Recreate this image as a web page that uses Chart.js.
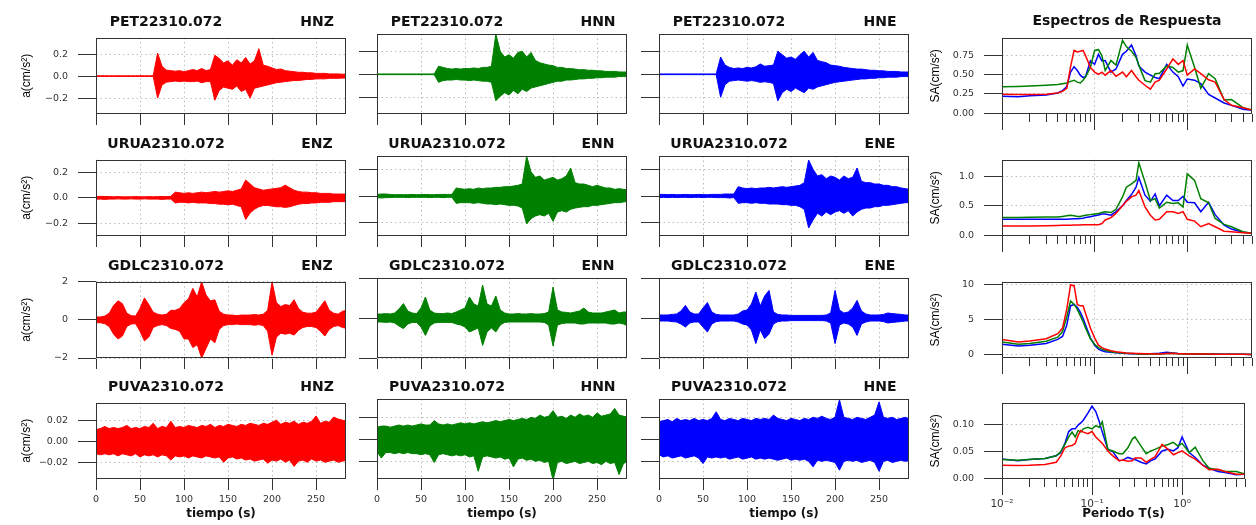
<!DOCTYPE html>
<html lang="es">
<head>
<meta charset="utf-8">
<title>Acelerogramas y espectros de respuesta</title>
<script src="https://cdn.jsdelivr.net/npm/chart.js@4.4.1/dist/chart.umd.min.js"></script>
<style>
  html, body { margin: 0; padding: 0; background: #fff; }
  #lienzo { position: relative; width: 1256px; height: 525px; overflow: hidden; background: #fff; }
  #lienzo canvas { position: absolute; }
  .tit { position: absolute; width: 200px; text-align: center; white-space: nowrap;
         font: bold 14px "DejaVu Sans", sans-serif; line-height: 14px; color: #111; }
</style>
</head>
<body>
<div id="lienzo"></div>
<script>
// ---- datos ----
const tiempo = [0,5,10,15,20,25,30,35,40,45,50,55,60,65,70,75,80,85,90,95,100,105,110,115,120,125,130,135,140,145,
  150,155,160,165,170,175,180,185,190,195,200,205,210,215,220,225,230,235,240,245,250,255,260,265,270,275,280,285];

const estaciones = ['PET22310.072', 'URUA2310.072', 'GDLC2310.072', 'PUVA2310.072'];
const componentes = [['HNZ','HNN','HNE'], ['ENZ','ENN','ENE'], ['ENZ','ENN','ENE'], ['HNZ','HNN','HNE']];

// envolventes (maximo / minimo) de cada acelerograma, cm/s2, cada 5 s
const petHNZmax = [0.003,0.003,0.003,0.003,0.003,0.003,0.003,0.003,0.003,0.003,0.003,0.003,0.003,0.003,
  0.21,0.09,0.055,0.05,0.045,0.05,0.04,0.05,0.06,0.05,0.07,0.05,0.06,
  0.19,0.16,0.12,0.14,0.10,0.15,0.12,0.17,0.11,0.14,0.25,0.10,0.09,
  0.075,0.06,0.065,0.05,0.045,0.04,0.035,0.035,0.03,0.03,0.025,0.025,0.025,0.02,0.02,0.02,0.018,0.018];
const petHNZmin = [-0.003,-0.003,-0.003,-0.003,-0.003,-0.003,-0.003,-0.003,-0.003,-0.003,-0.003,-0.003,-0.003,-0.003,
  -0.20,-0.08,-0.055,-0.05,-0.045,-0.05,-0.045,-0.05,-0.05,-0.045,-0.06,-0.05,-0.05,
  -0.22,-0.13,-0.10,-0.11,-0.12,-0.09,-0.14,-0.12,-0.20,-0.11,-0.10,-0.09,-0.08,
  -0.07,-0.06,-0.055,-0.05,-0.045,-0.04,-0.04,-0.035,-0.03,-0.03,-0.025,-0.025,-0.025,-0.02,-0.02,-0.02,-0.018,-0.018];
const petHNNmax = [0.003,0.003,0.003,0.003,0.003,0.003,0.003,0.003,0.003,0.003,0.003,0.003,0.003,0.003,
  0.07,0.06,0.05,0.045,0.05,0.045,0.05,0.05,0.055,0.05,0.06,0.06,0.07,
  0.35,0.20,0.15,0.17,0.14,0.19,0.20,0.15,0.19,0.12,0.10,0.09,0.08,
  0.075,0.06,0.06,0.05,0.05,0.045,0.04,0.04,0.035,0.035,0.03,0.03,0.025,0.025,0.025,0.02,0.02,0.02];
const petHNNmin = [-0.003,-0.003,-0.003,-0.003,-0.003,-0.003,-0.003,-0.003,-0.003,-0.003,-0.003,-0.003,-0.003,-0.003,
  -0.07,-0.055,-0.05,-0.05,-0.045,-0.05,-0.05,-0.055,-0.05,-0.055,-0.06,-0.06,-0.07,
  -0.23,-0.19,-0.16,-0.18,-0.14,-0.17,-0.13,-0.15,-0.12,-0.11,-0.10,-0.09,-0.08,
  -0.07,-0.06,-0.06,-0.05,-0.05,-0.045,-0.04,-0.04,-0.035,-0.035,-0.03,-0.03,-0.025,-0.025,-0.025,-0.02,-0.02,-0.02];
const petHNEmax = [0.003,0.003,0.003,0.003,0.003,0.003,0.003,0.003,0.003,0.003,0.003,0.003,0.003,0.003,
  0.15,0.08,0.06,0.05,0.055,0.05,0.06,0.055,0.065,0.09,0.07,0.075,0.08,
  0.20,0.17,0.14,0.15,0.13,0.17,0.20,0.15,0.19,0.12,0.11,0.10,0.08,
  0.075,0.07,0.06,0.055,0.05,0.045,0.045,0.04,0.035,0.035,0.03,0.03,0.025,0.025,0.025,0.02,0.02,0.02];
const petHNEmin = [-0.003,-0.003,-0.003,-0.003,-0.003,-0.003,-0.003,-0.003,-0.003,-0.003,-0.003,-0.003,-0.003,-0.003,
  -0.20,-0.09,-0.06,-0.055,-0.05,-0.055,-0.06,-0.055,-0.06,-0.07,-0.065,-0.07,-0.08,
  -0.23,-0.16,-0.13,-0.15,-0.12,-0.14,-0.16,-0.12,-0.13,-0.11,-0.10,-0.09,-0.08,
  -0.07,-0.065,-0.06,-0.055,-0.05,-0.045,-0.04,-0.04,-0.035,-0.035,-0.03,-0.03,-0.025,-0.025,-0.025,-0.02,-0.02,-0.02];

const uruENZmax = [0.01,0.012,0.01,0.01,0.008,0.01,0.008,0.008,0.008,0.01,0.008,0.008,0.01,0.008,0.01,0.01,0.01,0.012,
  0.045,0.04,0.035,0.04,0.035,0.04,0.045,0.04,0.045,0.05,0.045,0.05,0.055,0.05,0.06,0.07,
  0.14,0.11,0.08,0.07,0.06,0.065,0.07,0.075,0.08,0.10,0.08,0.06,0.05,0.045,0.045,0.04,0.04,0.035,0.035,0.035,0.03,0.03,0.03,0.03];
const uruENZmin = [-0.01,-0.01,-0.012,-0.01,-0.01,-0.008,-0.01,-0.01,-0.008,-0.01,-0.01,-0.008,-0.01,-0.01,-0.01,-0.012,-0.01,-0.01,
  -0.04,-0.035,-0.035,-0.04,-0.035,-0.04,-0.04,-0.04,-0.045,-0.045,-0.05,-0.05,-0.055,-0.05,-0.06,-0.07,
  -0.17,-0.12,-0.09,-0.07,-0.06,-0.06,-0.065,-0.07,-0.07,-0.075,-0.07,-0.06,-0.05,-0.045,-0.045,-0.04,-0.04,-0.035,-0.035,-0.035,-0.03,-0.03,-0.03,-0.03];
const uruENNmax = [0.012,0.015,0.015,0.012,0.01,0.01,0.01,0.01,0.012,0.01,0.01,0.012,0.01,0.01,0.012,0.012,0.012,0.012,
  0.06,0.055,0.05,0.055,0.05,0.06,0.055,0.06,0.06,0.065,0.065,0.07,0.07,0.075,0.08,0.09,
  0.30,0.18,0.14,0.15,0.12,0.13,0.14,0.12,0.13,0.15,0.21,0.10,0.09,0.09,0.08,0.07,0.08,0.07,0.06,0.06,0.05,0.055,0.05,0.045];
const uruENNmin = [-0.012,-0.015,-0.012,-0.012,-0.01,-0.01,-0.01,-0.012,-0.01,-0.01,-0.01,-0.01,-0.012,-0.01,-0.01,-0.012,-0.01,-0.01,
  -0.055,-0.05,-0.05,-0.05,-0.055,-0.05,-0.055,-0.06,-0.06,-0.065,-0.06,-0.065,-0.07,-0.07,-0.075,-0.09,
  -0.21,-0.17,-0.15,-0.14,-0.15,-0.13,-0.19,-0.12,-0.11,-0.12,-0.10,-0.09,-0.085,-0.08,-0.08,-0.07,-0.07,-0.065,-0.06,-0.055,-0.05,-0.05,-0.045,-0.04];
const uruENEmax = [0.012,0.012,0.01,0.012,0.01,0.01,0.012,0.01,0.01,0.012,0.01,0.01,0.012,0.012,0.012,0.015,0.015,0.015,
  0.07,0.06,0.055,0.06,0.055,0.06,0.06,0.065,0.06,0.065,0.07,0.065,0.07,0.075,0.08,0.10,
  0.27,0.20,0.15,0.16,0.13,0.15,0.14,0.12,0.15,0.13,0.14,0.21,0.11,0.10,0.10,0.09,0.09,0.08,0.08,0.07,0.07,0.06,0.055,0.05];
const uruENEmin = [-0.012,-0.01,-0.012,-0.01,-0.012,-0.01,-0.01,-0.012,-0.01,-0.01,-0.012,-0.01,-0.01,-0.012,-0.012,-0.012,-0.015,-0.012,
  -0.055,-0.05,-0.05,-0.055,-0.05,-0.055,-0.055,-0.06,-0.06,-0.06,-0.065,-0.065,-0.07,-0.07,-0.08,-0.10,
  -0.24,-0.18,-0.13,-0.15,-0.12,-0.14,-0.12,-0.11,-0.13,-0.11,-0.15,-0.12,-0.10,-0.09,-0.09,-0.08,-0.08,-0.07,-0.07,-0.065,-0.06,-0.055,-0.05,-0.05];

const gdlENZmax = [0.15,0.15,0.2,0.35,0.75,1.0,0.85,0.35,0.22,0.2,
  0.6,1.15,0.8,0.4,0.3,0.25,0.3,0.5,
  0.5,0.6,0.9,1.1,1.65,1.2,2.0,1.3,1.0,1.05,0.45,
  0.3,0.25,0.25,0.22,0.25,0.25,0.25,0.28,0.25,0.3,0.5,
  2.0,0.9,0.7,0.8,0.75,1.05,0.6,0.4,0.35,0.35,0.4,0.7,1.0,0.5,0.35,0.3,0.45,0.5];
const gdlENZmin = [-0.15,-0.15,-0.2,-0.35,-0.75,-1.0,-0.85,-0.35,-0.22,-0.2,
  -0.6,-1.1,-0.9,-0.4,-0.3,-0.25,-0.3,-0.45,
  -0.5,-0.6,-1.0,-1.0,-1.45,-1.3,-2.0,-1.5,-1.0,-1.2,-0.5,
  -0.3,-0.25,-0.25,-0.22,-0.25,-0.25,-0.25,-0.28,-0.25,-0.3,-0.6,
  -1.85,-0.9,-0.7,-0.75,-0.7,-0.8,-0.55,-0.4,-0.35,-0.35,-0.4,-0.6,-0.85,-0.5,-0.35,-0.3,-0.4,-0.45];
const gdlENNmax = [0.2,0.2,0.22,0.2,0.25,0.45,0.72,0.35,0.25,0.22,
  0.5,1.05,0.4,0.25,0.22,0.22,0.25,0.22,
  0.3,0.4,0.5,1.05,0.7,0.6,1.65,0.7,0.6,1.1,0.4,
  0.25,0.2,0.2,0.22,0.2,0.2,0.22,0.2,0.2,0.22,0.3,
  1.55,0.4,0.3,0.28,0.25,0.3,0.35,0.5,0.3,0.25,0.25,0.25,0.3,0.35,0.4,0.25,0.3,0.3];
const gdlENNmin = [-0.2,-0.2,-0.22,-0.2,-0.25,-0.4,-0.53,-0.3,-0.22,-0.22,
  -0.45,-0.87,-0.4,-0.25,-0.22,-0.22,-0.22,-0.22,
  -0.3,-0.35,-0.45,-0.7,-0.6,-0.5,-1.37,-0.7,-0.5,-0.7,-0.35,
  -0.22,-0.2,-0.2,-0.2,-0.2,-0.2,-0.2,-0.2,-0.2,-0.22,-0.35,
  -1.4,-0.35,-0.28,-0.25,-0.25,-0.25,-0.3,-0.3,-0.25,-0.25,-0.25,-0.25,-0.25,-0.3,-0.3,-0.25,-0.3,-0.4];
const gdlENEmax = [0.15,0.15,0.15,0.18,0.2,0.35,0.63,0.3,0.2,0.2,
  0.5,0.77,0.3,0.18,0.15,0.15,0.15,0.15,
  0.2,0.35,0.4,0.7,1.3,0.6,1.1,1.38,0.3,0.18,0.15,
  0.15,0.13,0.13,0.13,0.13,0.13,0.13,0.13,0.13,0.15,0.25,
  1.38,0.4,0.25,0.3,0.5,0.88,0.35,0.2,0.15,0.15,0.15,0.18,0.25,0.22,0.2,0.18,0.15,0.15];
const gdlENEmin = [-0.15,-0.15,-0.15,-0.18,-0.2,-0.3,-0.45,-0.25,-0.2,-0.2,
  -0.45,-0.7,-0.3,-0.18,-0.15,-0.15,-0.15,-0.15,
  -0.2,-0.3,-0.35,-0.6,-1.28,-0.6,-1.03,-0.8,-0.3,-0.18,-0.15,
  -0.15,-0.13,-0.13,-0.13,-0.13,-0.13,-0.13,-0.13,-0.13,-0.15,-0.25,
  -1.28,-0.35,-0.25,-0.3,-0.45,-0.87,-0.3,-0.2,-0.15,-0.15,-0.15,-0.18,-0.25,-0.22,-0.2,-0.18,-0.15,-0.15];

const puvHNZmax = [0.011,0.012,0.014,0.012,0.013,0.012,0.013,0.015,0.012,0.013,
  0.012,0.014,0.013,0.017,0.012,0.014,0.013,0.019,0.013,0.014,
  0.013,0.015,0.014,0.013,0.015,0.014,0.016,0.013,0.015,0.014,
  0.016,0.015,0.014,0.016,0.015,0.017,0.016,0.015,0.017,0.016,
  0.018,0.02,0.016,0.018,0.017,0.019,0.016,0.018,0.017,0.019,
  0.024,0.017,0.019,0.018,0.023,0.021,0.02,0.019];
const puvHNZmin = [-0.012,-0.013,-0.012,-0.013,-0.012,-0.014,-0.012,-0.013,-0.014,-0.012,
  -0.015,-0.013,-0.014,-0.013,-0.015,-0.013,-0.014,-0.018,-0.014,-0.015,
  -0.014,-0.016,-0.014,-0.015,-0.016,-0.014,-0.015,-0.016,-0.015,-0.02,
  -0.016,-0.015,-0.017,-0.016,-0.018,-0.017,-0.019,-0.018,-0.017,-0.021,
  -0.018,-0.019,-0.017,-0.02,-0.018,-0.024,-0.019,-0.018,-0.02,-0.017,
  -0.019,-0.018,-0.02,-0.019,-0.018,-0.02,-0.019,-0.018];
const puvHNNmax = [0.011,0.012,0.012,0.011,0.012,0.013,0.012,0.013,0.012,0.013,
  0.014,0.013,0.013,0.017,0.014,0.013,0.014,0.013,0.014,0.015,
  0.014,0.015,0.014,0.015,0.016,0.015,0.016,0.017,0.016,0.017,
  0.018,0.017,0.018,0.019,0.018,0.02,0.019,0.022,0.02,0.021,
  0.026,0.02,0.021,0.019,0.022,0.02,0.023,0.021,0.022,0.02,
  0.024,0.021,0.022,0.023,0.028,0.022,0.021,0.02];
const puvHNNmin = [-0.011,-0.017,-0.012,-0.012,-0.013,-0.012,-0.013,-0.012,-0.013,-0.013,
  -0.014,-0.013,-0.014,-0.021,-0.014,-0.013,-0.014,-0.015,-0.014,-0.015,
  -0.014,-0.016,-0.015,-0.029,-0.016,-0.015,-0.016,-0.017,-0.016,-0.018,
  -0.017,-0.025,-0.018,-0.017,-0.019,-0.018,-0.02,-0.019,-0.021,-0.02,
  -0.037,-0.021,-0.02,-0.022,-0.021,-0.02,-0.022,-0.021,-0.02,-0.022,
  -0.021,-0.023,-0.02,-0.022,-0.021,-0.032,-0.022,-0.02];
const puvHNEmax = [0.016,0.017,0.018,0.016,0.019,0.017,0.018,0.017,0.019,0.017,
  0.018,0.017,0.019,0.025,0.018,0.017,0.019,0.018,0.017,0.019,
  0.018,0.017,0.019,0.018,0.019,0.018,0.022,0.019,0.018,0.017,
  0.019,0.018,0.017,0.019,0.018,0.02,0.019,0.021,0.019,0.018,
  0.02,0.036,0.02,0.019,0.018,0.02,0.019,0.018,0.02,0.022,
  0.034,0.02,0.019,0.02,0.018,0.019,0.02,0.018];
const puvHNEmin = [-0.014,-0.016,-0.015,-0.017,-0.016,-0.015,-0.017,-0.016,-0.015,-0.017,
  -0.022,-0.016,-0.017,-0.016,-0.017,-0.016,-0.018,-0.017,-0.016,-0.018,
  -0.017,-0.016,-0.018,-0.017,-0.018,-0.017,-0.018,-0.019,-0.018,-0.017,
  -0.019,-0.018,-0.019,-0.018,-0.02,-0.025,-0.019,-0.02,-0.019,-0.02,
  -0.021,-0.028,-0.02,-0.019,-0.02,-0.019,-0.021,-0.02,-0.019,-0.021,
  -0.029,-0.02,-0.019,-0.021,-0.02,-0.019,-0.02,-0.019];

// espectros de respuesta SA (cm/s2) contra periodo T (s)
const periodos = [0.01,0.015,0.02,0.03,0.04,0.045,0.05,0.055,0.06,0.065,0.07,0.075,0.08,0.09,0.1,0.11,0.12,0.13,0.15,0.17,
  0.2,0.22,0.25,0.28,0.3,0.35,0.4,0.45,0.5,0.6,0.7,0.8,0.9,1.0,1.2,1.4,1.7,2.0,2.5,3.0,4.0,5.0];

const saPET_Z = [0.245,0.24,0.24,0.245,0.26,0.28,0.32,0.6,0.81,0.79,0.8,0.81,0.74,0.59,0.53,0.5,0.53,0.49,0.55,0.475,
  0.53,0.47,0.55,0.47,0.425,0.36,0.31,0.40,0.425,0.57,0.70,0.63,0.68,0.49,0.57,0.51,0.43,0.40,0.175,0.10,0.07,0.04];
const saPET_N = [0.34,0.345,0.35,0.36,0.37,0.38,0.39,0.41,0.425,0.40,0.39,0.425,0.47,0.59,0.81,0.82,0.74,0.55,0.68,0.62,
  0.94,0.86,0.80,0.72,0.62,0.42,0.40,0.51,0.515,0.61,0.59,0.53,0.55,0.88,0.59,0.32,0.51,0.445,0.17,0.175,0.07,0.04];
const saPET_E = [0.217,0.21,0.225,0.235,0.26,0.29,0.34,0.53,0.6,0.55,0.49,0.46,0.475,0.675,0.63,0.76,0.675,0.68,0.53,0.57,
  0.76,0.80,0.88,0.74,0.61,0.53,0.49,0.46,0.445,0.63,0.53,0.47,0.35,0.44,0.425,0.38,0.24,0.195,0.13,0.10,0.05,0.037];

const saURU_Z = [0.156,0.156,0.158,0.16,0.165,0.168,0.17,0.172,0.174,0.175,0.176,0.177,0.178,0.18,0.18,0.18,0.2,0.26,0.30,0.37,
  0.5,0.575,0.65,0.68,0.76,0.48,0.34,0.26,0.27,0.40,0.40,0.37,0.40,0.27,0.24,0.145,0.20,0.145,0.07,0.06,0.045,0.035];
const saURU_N = [0.30,0.30,0.305,0.31,0.31,0.32,0.33,0.34,0.33,0.32,0.32,0.33,0.34,0.35,0.36,0.37,0.385,0.40,0.385,0.44,
  0.65,0.815,0.87,0.93,1.23,0.90,0.59,0.62,0.46,0.56,0.54,0.55,0.48,1.04,0.93,0.62,0.55,0.285,0.185,0.145,0.06,0.035];
const saURU_E = [0.27,0.27,0.27,0.27,0.27,0.27,0.27,0.275,0.278,0.28,0.285,0.29,0.30,0.315,0.33,0.345,0.36,0.36,0.34,0.40,
  0.50,0.59,0.69,0.815,0.98,0.68,0.575,0.70,0.50,0.68,0.59,0.59,0.66,0.56,0.55,0.40,0.56,0.35,0.17,0.105,0.05,0.035];

const saGDL_Z = [2.17,1.8,1.94,2.26,3.0,3.8,6.5,10.0,9.9,7.2,7.0,7.0,5.85,3.8,2.4,1.34,1.0,0.78,0.55,0.4,
  0.28,0.22,0.18,0.15,0.14,0.12,0.1,0.09,0.09,0.14,0.18,0.12,0.1,0.09,0.08,0.07,0.06,0.05,0.04,0.03,0.025,0.02];
const saGDL_N = [1.8,1.47,1.6,1.9,2.5,3.3,5.4,7.7,7.2,6.5,5.6,4.7,3.8,2.26,1.47,1.0,0.78,0.6,0.41,0.3,
  0.23,0.18,0.14,0.11,0.09,0.08,0.08,0.08,0.09,0.15,0.18,0.12,0.1,0.09,0.08,0.07,0.06,0.05,0.04,0.03,0.025,0.02];
const saGDL_E = [1.47,1.24,1.34,1.6,2.17,2.6,4.2,7.0,7.2,6.8,6.1,5.2,4.2,2.4,1.34,0.78,0.55,0.41,0.32,0.25,
  0.18,0.15,0.12,0.1,0.09,0.09,0.1,0.14,0.18,0.32,0.23,0.15,0.12,0.1,0.09,0.08,0.07,0.06,0.05,0.04,0.03,0.02];

const saPUV_Z = [0.0245,0.024,0.0245,0.026,0.03,0.042,0.057,0.06,0.061,0.065,0.08,0.089,0.086,0.083,0.087,0.077,0.071,0.065,0.051,0.042,
  0.033,0.034,0.032,0.033,0.038,0.038,0.03,0.036,0.04,0.063,0.054,0.044,0.048,0.051,0.042,0.036,0.0245,0.016,0.017,0.013,0.008,0.008];
const saPUV_N = [0.035,0.034,0.035,0.037,0.042,0.05,0.063,0.077,0.086,0.077,0.089,0.086,0.092,0.095,0.092,0.098,0.095,0.105,0.054,0.051,
  0.046,0.046,0.057,0.073,0.077,0.06,0.046,0.051,0.054,0.06,0.063,0.067,0.06,0.065,0.048,0.058,0.033,0.019,0.016,0.013,0.013,0.008];
const saPUV_E = [0.036,0.033,0.035,0.037,0.042,0.048,0.065,0.087,0.092,0.092,0.099,0.103,0.108,0.121,0.134,0.124,0.106,0.086,0.054,0.05,
  0.033,0.034,0.039,0.036,0.035,0.03,0.027,0.033,0.036,0.051,0.054,0.051,0.057,0.077,0.048,0.039,0.0245,0.019,0.013,0.011,0.007,0.008];

// marcas y etiquetas de los ejes
const ticksTiempo = [0, 50, 100, 150, 200, 250];
const ticksSenal = [[-0.2, 0, 0.2], [-0.2, 0, 0.2], [-2, 0, 2], [-0.02, 0, 0.02]];
const etiqSenal = [['\u22120.2', '0.0', '0.2'], ['\u22120.2', '0.0', '0.2'], ['\u22122', '0', '2'], ['\u22120.02', '0.00', '0.02']];
const ticksEspectro = [[0, 0.25, 0.5, 0.75], [0, 0.5, 1], [0, 5, 10], [0, 0.05, 0.1]];
const etiqEspectro = [['0.00', '0.25', '0.50', '0.75'], ['0.0', '0.5', '1.0'], ['0', '5', '10'], ['0.00', '0.05', '0.10']];
const ticksPeriodo = [0.01,0.02,0.03,0.04,0.05,0.06,0.07,0.08,0.09,0.1,0.2,0.3,0.4,0.5,0.6,0.7,0.8,0.9,1,2,3,4,5];
const etiqPeriodo = ['10\u207B\u00B2','','','','','','','','','10\u207B\u00B9','','','','','','','','','10\u2070','','','',''];

const senales = [
  [[petHNZmax, petHNZmin], [petHNNmax, petHNNmin], [petHNEmax, petHNEmin]],
  [[uruENZmax, uruENZmin], [uruENNmax, uruENNmin], [uruENEmax, uruENEmin]],
  [[gdlENZmax, gdlENZmin], [gdlENNmax, gdlENNmin], [gdlENEmax, gdlENEmin]],
  [[puvHNZmax, puvHNZmin], [puvHNNmax, puvHNNmin], [puvHNEmax, puvHNEmin]]
];
const espectros = [
  [saPET_Z, saPET_N, saPET_E],
  [saURU_Z, saURU_N, saURU_E],
  [saGDL_Z, saGDL_N, saGDL_E],
  [saPUV_Z, saPUV_N, saPUV_E]
];

// ---- estilo y posiciones ----
const colores = ['#ff0000', '#008000', '#0000ff'];
const rangoSenal = [[-0.345, 0.35], [-0.3, 0.3], [-2, 2], [-0.036, 0.0366]];
const rangoEspectro = [[-0.012, 0.975], [-0.012, 1.28], [-0.5, 10.47], [-0.001, 0.1405]];
const X_COL = [96, 377, 659];
const X_ESP = 1002;
const Y_FIL = [34, 156, 278, 399];
const ANCHO = 250, ALTO = 80;

Chart.defaults.font.family = '"DejaVu Sans", sans-serif';
Chart.defaults.color = '#333';

const GRIS = '#bdbdbd';
const fuenteTicks = { family: '"DejaVu Sans", sans-serif', size: 9.5 };
const fuenteEje = { family: '"DejaVu Sans", sans-serif', size: 12, weight: 'bold' };
const fuenteY = { family: '"Liberation Sans", Arial, sans-serif', size: 12 };

// caja alrededor del area de trazado
const marco = {
  id: 'marco',
  afterDraw(chart) {
    const { ctx, chartArea: a } = chart;
    ctx.save();
    ctx.strokeStyle = '#333';
    ctx.lineWidth = 1;
    ctx.strokeRect(Math.round(a.left) + 0.5, Math.round(a.top) + 0.5,
      Math.round(a.right - a.left) - 1, Math.round(a.bottom - a.top) - 1);
    ctx.restore();
  }
};

// las decadas llevan marcas mas largas que las intermedias
const marcasDecada = {
  id: 'marcasDecada',
  afterDraw(chart) {
    const esc = chart.scales.x;
    const ctx = chart.ctx;
    ctx.save();
    ctx.strokeStyle = '#333';
    ctx.lineWidth = 1;
    ticksPeriodo.forEach((v, i) => {
      if (!etiqPeriodo[i]) return;
      const px = Math.round(esc.getPixelForValue(v) - 0.5) + 0.5;
      ctx.beginPath();
      ctx.moveTo(px, esc.top + 8);
      ctx.lineTo(px, esc.top + 16);
      ctx.stroke();
    });
    ctx.restore();
  }
};

function nuevoLienzo(x, y, w, h) {
  const c = document.createElement('canvas');
  c.width = w; c.height = h;
  c.style.left = x + 'px'; c.style.top = y + 'px';
  c.style.width = w + 'px'; c.style.height = h + 'px';
  document.getElementById('lienzo').appendChild(c);
  return c;
}

function titulo(texto, centro, arriba) {
  const d = document.createElement('div');
  d.className = 'tit';
  d.textContent = texto;
  d.style.left = (centro - 100) + 'px';
  d.style.top = arriba + 'px';
  document.getElementById('lienzo').appendChild(d);
}

function graficaSenal(fila, col) {
  const IZQ = 96, ARR = 12, DER = 8, ABA = 46;
  const cv = nuevoLienzo(X_COL[col] - IZQ, Y_FIL[fila] - ARR, IZQ + ANCHO + DER, ARR + ALTO + ABA);
  const [maximo, minimo] = senales[fila][col];
  const color = colores[col];
  new Chart(cv, {
    type: 'line',
    data: {
      datasets: [
        { data: tiempo.map((t, i) => ({ x: t, y: maximo[i] })), borderColor: color, backgroundColor: color,
          borderWidth: 1, pointRadius: 0, tension: 0, fill: '+1' },
        { data: tiempo.map((t, i) => ({ x: t, y: minimo[i] })), borderColor: color, backgroundColor: color,
          borderWidth: 1, pointRadius: 0, tension: 0, fill: false }
      ]
    },
    options: {
      responsive: false, animation: false, devicePixelRatio: 1, events: [],
      layout: { padding: { left: 0, top: ARR, right: DER, bottom: 0 } },
      plugins: { legend: { display: false }, tooltip: { enabled: false } },
      scales: {
        x: {
          type: 'linear', min: 0, max: 284, bounds: 'data',
          afterBuildTicks: ax => { ax.ticks = ticksTiempo.map(v => ({ value: v })); },
          afterFit: ax => { ax.height = ABA; },
          grid: { color: GRIS, tickColor: '#333', tickLength: 11, lineWidth: 1 },
          border: { display: false, dash: [1.5, 3] },
          ticks: { display: fila === 3, font: fuenteTicks, color: '#333', padding: 4, maxRotation: 0, autoSkip: false },
          title: { display: fila === 3, text: 'tiempo (s)', color: '#111', font: fuenteEje, padding: { top: 0, bottom: 4 } }
        },
        y: {
          min: rangoSenal[fila][0], max: rangoSenal[fila][1], bounds: 'data',
          afterBuildTicks: ax => { ax.ticks = ticksSenal[fila].map(v => ({ value: v })); },
          afterFit: ax => { ax.width = IZQ; },
          grid: { color: GRIS, tickColor: '#333', tickLength: 18, lineWidth: 1 },
          border: { display: false, dash: [1.5, 3] },
          ticks: { display: col === 0, font: fuenteTicks, color: '#333', padding: 10,
                   callback: (v, i) => etiqSenal[fila][i] },
          title: { display: col === 0, text: 'a(cm/s\u00B2)', color: '#000', font: fuenteY, padding: { top: 19, bottom: 0 } }
        }
      }
    },
    plugins: [marco]
  });
  titulo(estaciones[fila], X_COL[col] + 70, Y_FIL[fila] - 20);
  titulo(componentes[fila][col], X_COL[col] + 221, Y_FIL[fila] - 20);
}

function graficaEspectro(fila) {
  const IZQ = 80, ARR = 12, DER = 4, ABA = 46;
  const cv = nuevoLienzo(X_ESP - IZQ, Y_FIL[fila] - ARR, IZQ + ANCHO + DER, ARR + ALTO + ABA);
  new Chart(cv, {
    type: 'line',
    data: {
      datasets: espectros[fila].map((serie, k) => ({
        data: periodos.map((p, i) => ({ x: p, y: serie[i] })),
        borderColor: colores[k], borderWidth: 1.5, pointRadius: 0, tension: 0, fill: false
      }))
    },
    options: {
      responsive: false, animation: false, devicePixelRatio: 1, events: [],
      layout: { padding: { left: 0, top: ARR, right: DER, bottom: 0 } },
      plugins: { legend: { display: false }, tooltip: { enabled: false } },
      scales: {
        x: {
          type: 'logarithmic', min: 0.01, max: 5, bounds: 'data',
          afterBuildTicks: ax => { ax.ticks = ticksPeriodo.map(v => ({ value: v })); },
          afterFit: ax => { ax.height = ABA; },
          grid: { color: c => (etiqPeriodo[c.index] ? GRIS : 'rgba(0,0,0,0)'), tickColor: '#333', tickLength: 8, lineWidth: 1 },
          border: { display: false, dash: [1.5, 3] },
          ticks: { display: fila === 3, font: { family: '"DejaVu Sans", sans-serif', size: 10.5 }, color: '#333',
                   padding: 11, maxRotation: 0, autoSkip: false, callback: (v, i) => etiqPeriodo[i] },
          title: { display: fila === 3, text: 'Periodo T(s)', color: '#111', font: fuenteEje, padding: { top: 0, bottom: 4 } }
        },
        y: {
          min: rangoEspectro[fila][0], max: rangoEspectro[fila][1], bounds: 'data',
          afterBuildTicks: ax => { ax.ticks = ticksEspectro[fila].map(v => ({ value: v })); },
          afterFit: ax => { ax.width = IZQ; },
          grid: { color: GRIS, tickColor: '#333', tickLength: 18, lineWidth: 1 },
          border: { display: false, dash: [1.5, 3] },
          ticks: { font: fuenteTicks, color: '#333', padding: 10, callback: (v, i) => etiqEspectro[fila][i] },
          title: { display: true, text: 'SA(cm/s\u00B2)', color: '#000', font: fuenteY, padding: { top: 6, bottom: 0 } }
        }
      }
    },
    plugins: [marco, marcasDecada]
  });
}

for (let f = 0; f < 4; f++) {
  for (let c = 0; c < 3; c++) graficaSenal(f, c);
  graficaEspectro(f);
}
titulo('Espectros de Respuesta', X_ESP + ANCHO / 2, Y_FIL[0] - 21);
</script>
</body>
</html>
